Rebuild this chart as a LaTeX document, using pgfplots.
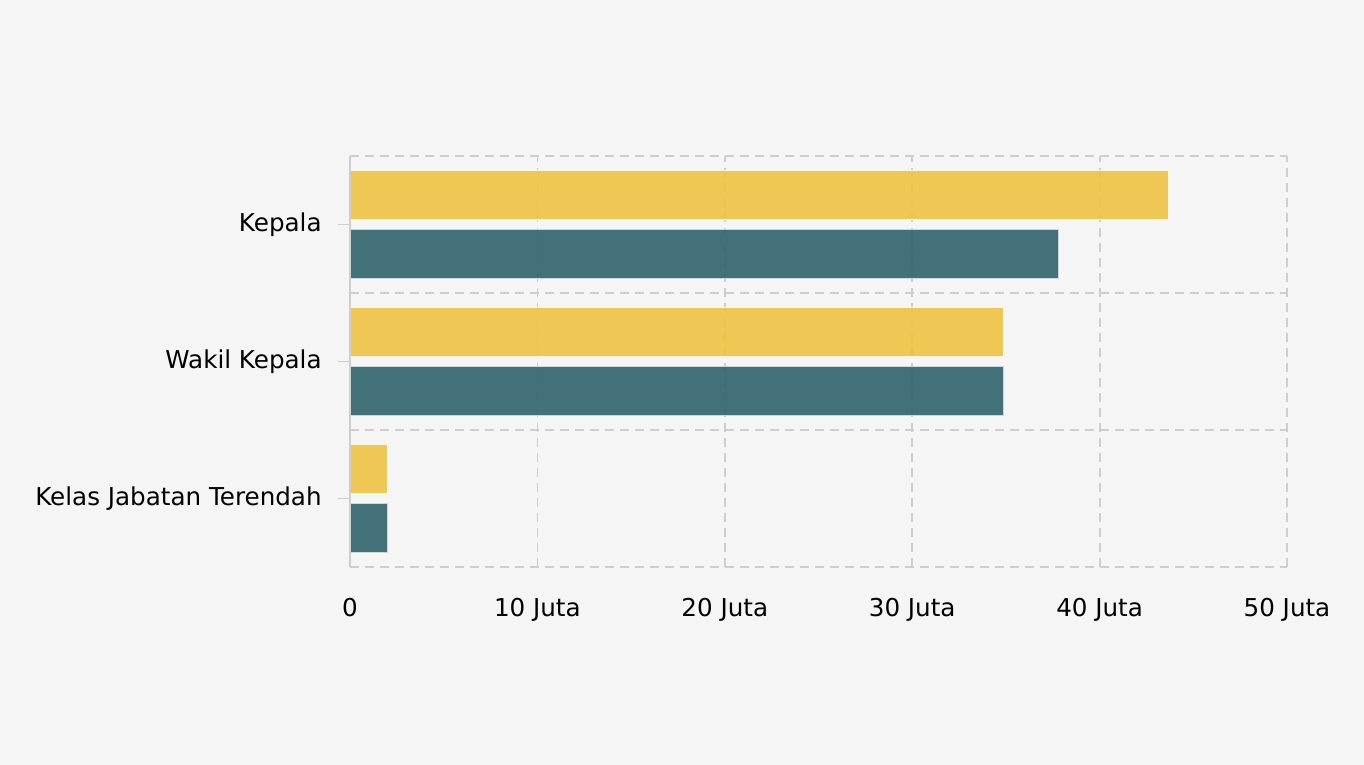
\documentclass[border=0pt]{standalone}
\usepackage{pgfplots}
\pgfplotsset{compat=1.18}
\usepackage{fontspec}
\setmainfont{DejaVu Sans}
\definecolor{bg}{RGB}{245,245,245}
\definecolor{cyell}{RGB}{239,193,63}
\definecolor{cteal}{RGB}{47,99,109}
\definecolor{gridc}{RGB}{206,206,206}
\begin{document}
\begin{tikzpicture}
\fill[bg] (0,0) rectangle (682bp,382.5bp);
\begin{axis}[
  at={(175bp,99bp)}, anchor=south west,
  scale only axis, width=468.5bp, height=205.5bp,
  xbar, xmin=0, xmax=50, ymin=-0.5, ymax=2.5,
  font=\fontsize{12.3bp}{14.8bp}\selectfont,
  axis line style={draw=none},
  xtick={0,10,20,30,40,50},
  xticklabels={0,10 Juta,20 Juta,30 Juta,40 Juta,50 Juta},
  xmajorgrids, major x grid style={gridc, dash pattern=on 4.5bp off 3bp, line width=0.9bp},
  x tick style={draw=none},
  xticklabel style={anchor=north, inner sep=0pt, yshift=-9.5bp},
  ytick={0,1,2}, ytick pos=left,
  yticklabels={Kelas Jabatan Terendah,Wakil Kepala,Kepala},
  y tick style={gridc, line width=0.9bp},
  tick align=outside, major tick length=6bp,
  yticklabel style={anchor=east, inner sep=0pt, xshift=-8bp},
  extra y ticks={-0.5,0.5,1.5,2.5},
  extra y tick labels={},
  extra y tick style={ymajorgrids, major y grid style={gridc, dash pattern=on 4.5bp off 3bp, line width=0.9bp}, y tick style={draw=none}},
  bar width=0.358,
  clip=false,
]
\addplot[fill=cyell, fill opacity=0.88, draw=white!85!cyell, line width=0.4bp, bar shift=0.218] coordinates {(2.0,0) (34.87,1) (43.67,2)};
\addplot[fill=cteal, fill opacity=0.9, draw=white!75!cteal, line width=0.4bp, bar shift=-0.218] coordinates {(2.0,0) (34.87,1) (37.8,2)};
\draw[gridc, line width=1bp] (axis cs:0,-0.5) -- (axis cs:0,2.5);
\end{axis}
\end{tikzpicture}
\end{document}
